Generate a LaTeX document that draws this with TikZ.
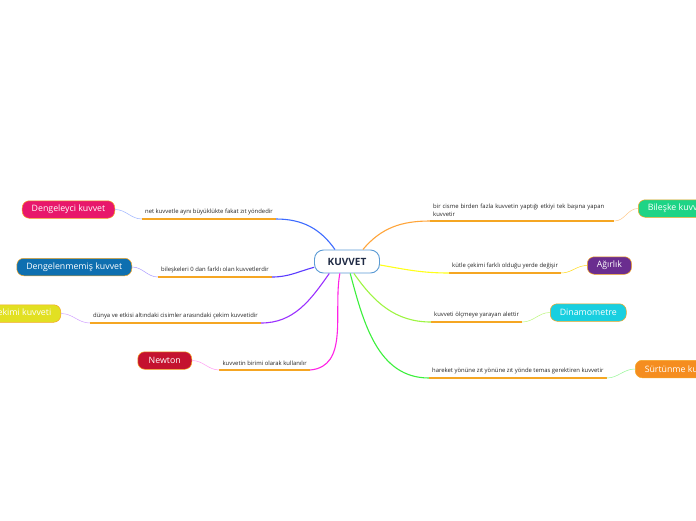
\documentclass[tikz,border=0pt]{standalone}
\usepackage{fontspec}
\setmainfont{Open Sans}
\usepackage{xcolor}
\usetikzlibrary{arrows.meta}
\definecolor{ulorange}{HTML}{F5A623}
\definecolor{rootblue}{HTML}{5B9BD5}
\definecolor{navy}{HTML}{1F2A44}
\definecolor{cblue}{HTML}{3D6BFF}
\definecolor{cindigo}{HTML}{5A3BFF}
\definecolor{cviolet}{HTML}{9B30FF}
\definecolor{cmagenta}{HTML}{FF22E6}
\definecolor{corange}{HTML}{FFA53A}
\definecolor{cyellow}{HTML}{FFFF1A}
\definecolor{clime}{HTML}{9EF542}
\definecolor{cgreen}{HTML}{3CF03C}
\definecolor{bpink}{HTML}{E8176B}
\definecolor{bblue}{HTML}{0E6FB0}
\definecolor{byellow}{HTML}{E2E022}
\definecolor{bred}{HTML}{C4122F}
\definecolor{bgreen}{HTML}{1ED486}
\definecolor{bpurple}{HTML}{6A2D8F}
\definecolor{bcyan}{HTML}{19CFE0}
\definecolor{borange}{HTML}{F58D1F}

\begin{document}
\begin{tikzpicture}[x=1pt,y=-1pt,
root/.style={draw=rootblue,line width=0.9pt,rounded corners=9pt,fill=white,minimum width=65pt,minimum height=23pt,font=\fontsize{10}{11}\bfseries,text=navy},
topic/.style={draw=ulorange,line width=0.5pt,rounded corners=7pt,minimum height=17.5pt,inner xsep=9.5pt,text=white,font=\fontsize{8.8}{9}\selectfont},
note/.style={inner xsep=3pt,inner ysep=4pt,font=\fontsize{5.9}{8}\selectfont,text=black!85},
uline/.style={ulorange,line width=1.4pt},
branch/.style={line width=1.1pt},
twig/.style={line width=0.5pt}]
\useasboundingbox (0,0) rectangle (696,520);
\fill[white] (0,0) rectangle (696,520);
\clip (0,0) rectangle (696,520);

\node[root] (kuvvet) at (347,261.5) {KUVVET};

% left side
\node[topic,fill=bpink,anchor=east] (dengeleyci) at (115,209.5) {Dengeleyci kuvvet};
\node[note,anchor=south east] (n1) at (276,219) {net kuvvetle aynı büyüklükte fakat zıt yöndedir};
\node[topic,fill=bblue,anchor=east] (dengelenmemis) at (132,267) {Dengelenmemiş kuvvet};
\node[note,anchor=south east] (n2) at (272,277) {bileşkeleri 0 dan farklı olan kuvvetlerdir};
\node[topic,fill=byellow,anchor=east] (yercekimi) at (61,313.5) {Yer çekimi kuvveti};
\node[note,anchor=south east] (n3) at (261,323) {dünya ve etkisi altındaki cisimler arasındaki çekim kuvvetidir};
\node[topic,fill=bred,anchor=east,minimum width=54pt] (newton) at (192,360.5) {Newton};
\node[note,anchor=south east] (n4) at (310,370) {kuvvetin birimi olarak kullanılır};

% right side
\node[topic,fill=bgreen,anchor=west] (bileske) at (638,208.5) {Bileşke kuvveti};
\node[note,anchor=south west,text width=178pt,align=left] (n5) at (430,221) {bir cisme birden fazla kuvvetin yaptığı etkiyi tek başına yapan kuvvetir};
\node[topic,fill=bpurple,anchor=west] (agirlik) at (587,265.5) {Ağırlık};
\node[note,anchor=south west] (n6) at (449,273) {kütle çekimi farklı olduğu yerde değişir};
\node[topic,fill=bcyan,anchor=west] (dinamometre) at (550,312.5) {Dinamometre};
\node[note,anchor=south west] (n7) at (431,322) {kuvveti ölçmeye yarayan alettir};
\node[topic,fill=borange,anchor=west] (surtunme) at (635,369) {Sürtünme kuvveti};
\node[note,anchor=south west] (n8) at (429,378) {hareket yönüne zıt yönüne zıt yönde temas gerektiren kuvvetir};

% underlines
\foreach \n in {n1,n2,n3,n4,n5,n6,n7,n8}
  \draw[uline] (\n.south west) -- (\n.south east);

% branches from the centre
\draw[branch,cblue] ([xshift=-12pt]kuvvet.north) to[out=125,in=0] (n1.south east);
\draw[branch,cindigo] (kuvvet.190) to[out=195,in=0] (n2.south east);
\draw[branch,cviolet] (kuvvet.214) to[out=235,in=0] (n3.south east);
\draw[branch,cmagenta] (kuvvet.239) to[out=260,in=5] (n4.south east);
\draw[branch,corange] (kuvvet.37) to[out=50,in=180] (n5.south west);
\draw[branch,cyellow] (kuvvet.-6) to[out=-10,in=180] (n6.south west);
\draw[branch,clime] (kuvvet.-60) to[out=-55,in=180] (n7.south west);
\draw[branch,cgreen] (kuvvet.-75) to[out=-75,in=180] (n8.south west);

% twigs to the topics
\draw[twig,cblue!50] (n1.south west) to[out=180,in=0] (dengeleyci.east);
\draw[twig,cindigo!50] (n2.south west) to[out=180,in=0] (dengelenmemis.east);
\draw[twig,cviolet!45] (n3.south west) to[out=180,in=0] (yercekimi.east);
\draw[twig,cmagenta!45] (n4.south west) to[out=180,in=0] (newton.east);
\draw[twig,corange!60] (n5.south east) to[out=0,in=180] (bileske.west);
\draw[twig,cyellow!70!orange] (n6.south east) to[out=0,in=180] (agirlik.west);
\draw[twig,clime!70] (n7.south east) to[out=0,in=180] (dinamometre.west);
\draw[twig,cgreen!55] (n8.south east) to[out=0,in=180] (surtunme.west);
\end{tikzpicture}
\end{document}
